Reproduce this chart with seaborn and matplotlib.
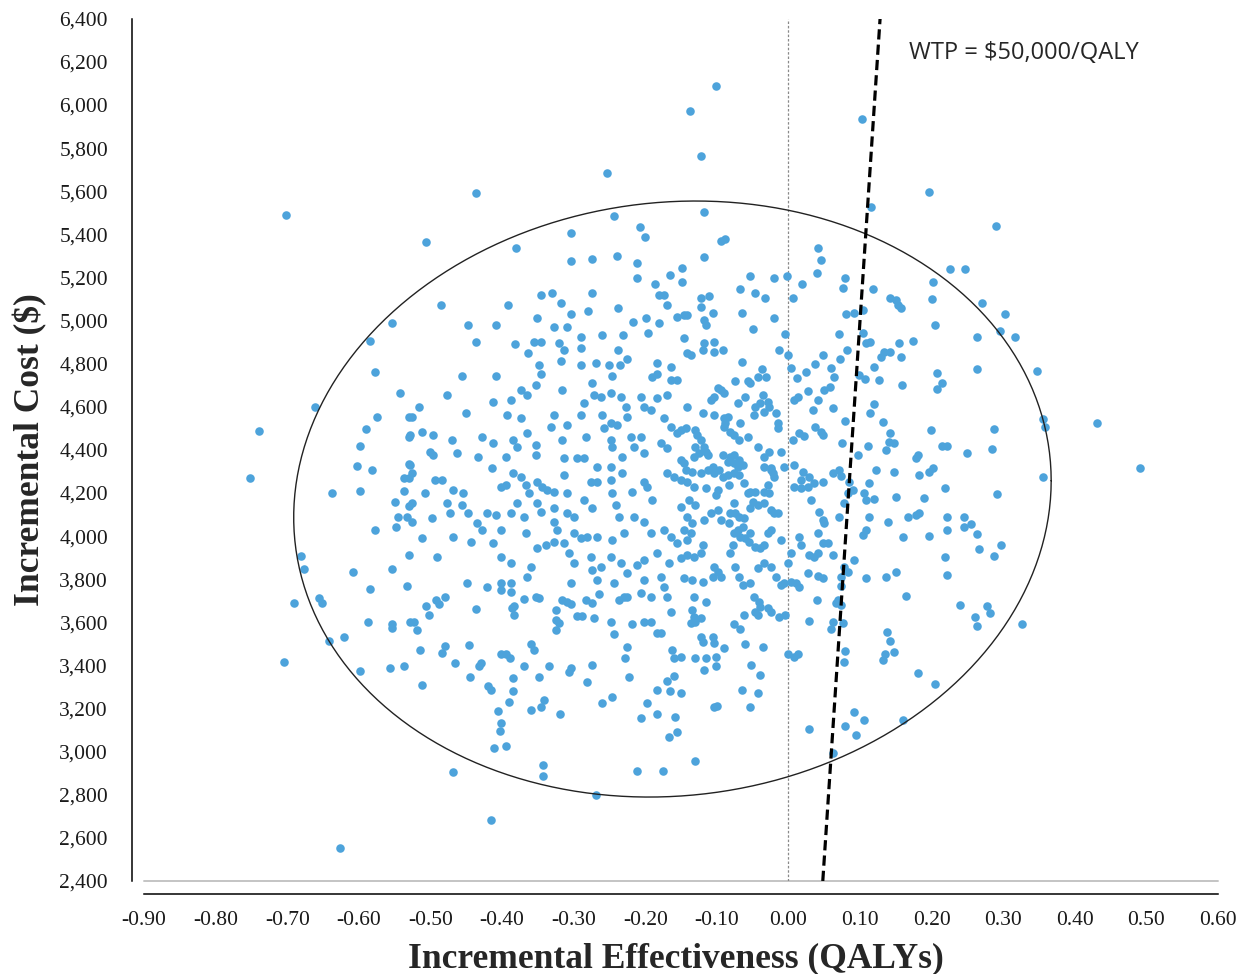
import numpy as np
import pandas as pd
import matplotlib
matplotlib.use("Agg")
import matplotlib.pyplot as plt
import seaborn as sns

# --- data: (incremental QALYs, incremental cost $) ---

pts_upper = [
    (-0.702, 5492), (-0.437, 5590), (-0.254, 5683), (-0.506, 5364), (-0.380, 5337),
    (-0.304, 5407), (-0.243, 5484), (-0.207, 5432), (-0.201, 5388), (-0.304, 5275),
    (-0.275, 5284), (-0.240, 5301), (-0.212, 5266), (-0.212, 5198), (-0.165, 5213),
    (-0.186, 5170), (-0.181, 5119), (-0.174, 5119), (-0.346, 5119), (-0.330, 5127),
    (-0.275, 5127), (-0.148, 5243), (-0.148, 5181),
    (-0.101, 6086), (-0.138, 5973), (-0.122, 5765), (0.103, 5937), (0.197, 5597),
    (0.116, 5527), (-0.118, 5503), (-0.094, 5371), (-0.088, 5379), (-0.118, 5293),
    (-0.054, 5207), (-0.020, 5196), (-0.002, 5207), (0.019, 5170), (-0.067, 5145),
    (-0.046, 5127), (-0.033, 5105), (-0.111, 5114), (-0.122, 5104), (0.006, 5105),
    (0.042, 5336), (0.045, 5283), (0.040, 5221), (0.079, 5198), (0.076, 5153),
    (0.118, 5145), (0.142, 5105), (0.150, 5096), (0.202, 5181), (0.225, 5238),
    (0.200, 5099), (0.290, 5439), (0.247, 5238),
]

pts_left = [
    (-0.553, 4988), (-0.585, 4907), (-0.577, 4762), (-0.542, 4664), (-0.661, 4601),
    (-0.739, 4489), (-0.574, 4552), (-0.590, 4499), (-0.530, 4552), (-0.530, 4461),
    (-0.598, 4420), (-0.752, 4271), (-0.603, 4325), (-0.582, 4306), (-0.530, 4333),
    (-0.537, 4271), (-0.530, 4271), (-0.637, 4202), (-0.598, 4210), (-0.537, 4210),
    (-0.550, 4159), (-0.530, 4141), (-0.545, 4089), (-0.533, 4089), (-0.548, 4044),
    (-0.577, 4029), (-0.681, 3907), (-0.677, 3846), (-0.608, 3835), (-0.553, 3846),
    (-0.530, 3914), (-0.584, 3756), (-0.533, 3769),
    (-0.690, 3689), (-0.655, 3715), (-0.652, 3689), (-0.587, 3600), (-0.553, 3591),
    (-0.553, 3575), (-0.528, 3602), (-0.642, 3514), (-0.621, 3531), (-0.705, 3418),
    (-0.598, 3374), (-0.556, 3390), (-0.537, 3398), (-0.626, 2555),
]

pts_mid_left = [
    (-0.485, 5073), (-0.391, 5073), (-0.317, 5081), (-0.280, 5046), (-0.238, 5057),
    (-0.170, 5073), (-0.303, 5031), (-0.351, 5014), (-0.217, 4995), (-0.199, 5011),
    (-0.181, 4988), (-0.155, 5018), (-0.328, 4969), (-0.309, 4972), (-0.448, 4978),
    (-0.408, 4978), (-0.437, 4900), (-0.382, 4892), (-0.356, 4900), (-0.345, 4900),
    (-0.364, 4849), (-0.321, 4895), (-0.314, 4864), (-0.290, 4926), (-0.290, 4872),
    (-0.261, 4935), (-0.231, 4935), (-0.196, 4944), (-0.238, 4864), (-0.225, 4822),
    (-0.269, 4802), (-0.251, 4794), (-0.235, 4794), (-0.317, 4813), (-0.290, 4794),
    (-0.349, 4794), (-0.345, 4752), (-0.183, 4805), (-0.164, 4786), (-0.155, 4725),
    (-0.456, 4743), (-0.408, 4743), (-0.275, 4709), (-0.246, 4743), (-0.190, 4737),
    (-0.183, 4752), (-0.164, 4725),
    (-0.477, 4655), (-0.450, 4570), (-0.516, 4601), (-0.526, 4554), (-0.412, 4624),
    (-0.388, 4632), (-0.393, 4562), (-0.374, 4678), (-0.365, 4655), (-0.353, 4701),
    (-0.316, 4678), (-0.328, 4562), (-0.309, 4516), (-0.286, 4616), (-0.290, 4562),
    (-0.272, 4655), (-0.262, 4647), (-0.248, 4663), (-0.234, 4647), (-0.227, 4601),
    (-0.260, 4562), (-0.248, 4524), (-0.239, 4516), (-0.225, 4554), (-0.206, 4647),
    (-0.202, 4601), (-0.192, 4585), (-0.183, 4640), (-0.169, 4655), (-0.174, 4547),
    (-0.164, 4508), (-0.374, 4547), (-0.332, 4508),
    (-0.512, 4485), (-0.496, 4469), (-0.470, 4446), (-0.500, 4392), (-0.496, 4377),
    (-0.463, 4385), (-0.433, 4369), (-0.428, 4458), (-0.412, 4431), (-0.395, 4369),
    (-0.384, 4446), (-0.379, 4415), (-0.365, 4477), (-0.353, 4423), (-0.353, 4377),
    (-0.316, 4446), (-0.314, 4361), (-0.295, 4361), (-0.286, 4361), (-0.283, 4462),
    (-0.258, 4500), (-0.248, 4446), (-0.246, 4415), (-0.232, 4369), (-0.220, 4462),
    (-0.206, 4462), (-0.216, 4415), (-0.202, 4384), (-0.178, 4431), (-0.169, 4407),
    (-0.155, 4477), (-0.528, 4469), (-0.528, 4330), (-0.526, 4292),
    (-0.493, 4261), (-0.484, 4261), (-0.414, 4315), (-0.402, 4230), (-0.395, 4237),
    (-0.384, 4292), (-0.374, 4276), (-0.367, 4237), (-0.363, 4199), (-0.351, 4253),
    (-0.344, 4230), (-0.337, 4214), (-0.328, 4206), (-0.314, 4284), (-0.309, 4199),
    (-0.276, 4253), (-0.267, 4253), (-0.267, 4322), (-0.248, 4322), (-0.248, 4261),
    (-0.246, 4199), (-0.241, 4145), (-0.232, 4292), (-0.218, 4206), (-0.202, 4253),
    (-0.197, 4230), (-0.190, 4168), (-0.169, 4292), (-0.160, 4276), (-0.507, 4199),
    (-0.468, 4214), (-0.454, 4199), (-0.472, 4106), (-0.456, 4145), (-0.477, 4153),
    (-0.526, 4153), (-0.526, 4067), (-0.498, 4083), (-0.512, 3990), (-0.491, 3905),
    (-0.468, 3998), (-0.447, 4106), (-0.435, 4060), (-0.428, 4029), (-0.421, 4106),
    (-0.409, 4098), (-0.402, 4029), (-0.388, 4106), (-0.379, 4153), (-0.370, 4090),
    (-0.351, 4153), (-0.346, 4114), (-0.328, 4129), (-0.328, 4067), (-0.323, 4029),
    (-0.309, 4106), (-0.300, 4090), (-0.286, 4168), (-0.274, 4129), (-0.300, 4013),
    (-0.290, 3990), (-0.281, 3998), (-0.267, 3998), (-0.246, 3982), (-0.237, 4090),
    (-0.230, 4013), (-0.216, 4090), (-0.202, 4067), (-0.192, 4013), (-0.174, 4029),
    (-0.164, 3998), (-0.155, 3967), (-0.444, 3974), (-0.412, 3967), (-0.402, 3905),
    (-0.388, 3874), (-0.367, 4013), (-0.351, 3943), (-0.339, 3959), (-0.328, 3974),
    (-0.314, 3967), (-0.307, 3920), (-0.300, 3874), (-0.276, 3905), (-0.262, 3858),
    (-0.248, 3905), (-0.234, 3874), (-0.225, 3827), (-0.211, 3866), (-0.202, 3889),
    (-0.183, 3920), (-0.167, 3874), (-0.449, 3781), (-0.421, 3766), (-0.402, 3781),
    (-0.388, 3781), (-0.365, 3812), (-0.360, 3858), (-0.304, 3781), (-0.274, 3843),
    (-0.267, 3797), (-0.244, 3781), (-0.202, 3797), (-0.178, 3812), (-0.174, 3766),
]

pts_mid_right = [
    (-0.122, 5065), (-0.106, 5034), (-0.118, 5003), (-0.115, 4980), (-0.146, 5026),
    (-0.141, 5026), (-0.065, 5037), (-0.020, 5014), (-0.049, 4960), (-0.005, 4937),
    (-0.013, 4864), (-0.001, 4841), (-0.065, 4807), (-0.146, 4918), (-0.141, 4849),
    (-0.136, 4841), (-0.118, 4895), (-0.120, 4864), (-0.104, 4902), (-0.104, 4856),
    (-0.092, 4864),
    (0.081, 5031), (0.092, 5037), (0.104, 5049), (0.071, 4937), (0.104, 4944),
    (0.108, 4895), (0.114, 4902), (0.082, 4864), (0.072, 4821), (0.048, 4841),
    (0.037, 4797), (0.024, 4763), (0.012, 4735), (0.003, 4779), (0.059, 4779),
    (0.064, 4740), (0.098, 4748), (0.107, 4729), (0.119, 4786), (0.127, 4725),
    (0.129, 4833), (0.134, 4856), (0.142, 4856), (0.155, 4895), (0.157, 4833),
    (0.174, 4907), (0.205, 4980), (0.153, 5073), (0.157, 5057), (0.159, 4703),
    (0.208, 4756), (0.215, 4709), (0.207, 4681),
    (-0.043, 4740), (-0.037, 4774), (-0.032, 4737), (-0.074, 4720), (-0.057, 4720),
    (-0.053, 4709), (-0.099, 4686), (-0.094, 4678), (-0.090, 4663), (-0.104, 4647),
    (-0.108, 4632), (-0.071, 4616), (-0.060, 4647), (-0.036, 4655), (-0.039, 4616),
    (-0.046, 4601), (-0.029, 4624), (-0.027, 4601), (-0.018, 4570), (-0.048, 4562),
    (-0.034, 4578), (-0.141, 4601), (-0.120, 4570), (-0.104, 4562), (-0.090, 4547),
    (-0.085, 4554), (-0.088, 4524), (-0.090, 4508), (-0.067, 4524), (-0.014, 4524),
    (-0.015, 4500), (-0.143, 4500), (-0.130, 4493), (-0.127, 4470), (-0.150, 4493),
    (-0.081, 4485), (-0.076, 4469), (-0.069, 4446), (-0.057, 4462),
    (0.008, 4632), (0.013, 4647), (0.027, 4675), (0.041, 4632), (0.034, 4585),
    (0.062, 4593), (0.050, 4678), (0.058, 4691), (0.079, 4534), (0.037, 4508),
    (0.045, 4485), (0.048, 4469), (0.015, 4477), (0.022, 4465), (0.006, 4446),
    (-0.043, 4415), (-0.027, 4392), (-0.011, 4392), (-0.034, 4369),
    (-0.122, 4446), (-0.118, 4415), (-0.130, 4415), (-0.125, 4384), (-0.132, 4369),
    (-0.115, 4392), (-0.113, 4377), (-0.092, 4377), (-0.081, 4369), (-0.076, 4377),
    (-0.069, 4353), (-0.064, 4330), (-0.071, 4322), (-0.076, 4338), (-0.085, 4346),
    (-0.150, 4353), (-0.146, 4338), (-0.143, 4307), (-0.134, 4299), (-0.122, 4292),
    (-0.113, 4307), (-0.106, 4322), (-0.104, 4292), (-0.097, 4307), (-0.092, 4276),
    (-0.085, 4284), (-0.076, 4292), (-0.069, 4284), (-0.025, 4315), (-0.022, 4292),
    (-0.006, 4322), (0.008, 4330), (0.020, 4299), (0.029, 4276), (0.036, 4245),
    (0.048, 4253), (0.062, 4292), (0.071, 4307), (0.073, 4279), (0.085, 4253),
    (0.090, 4214), (0.075, 4430), (0.111, 4420), (0.097, 4377), (0.136, 4400),
    (0.141, 4438), (0.148, 4431), (0.142, 4480), (0.132, 4531), (0.120, 4613),
    (0.114, 4570), (0.199, 4493), (0.215, 4420), (0.222, 4420),
    (0.181, 4377), (0.178, 4361), (0.148, 4299), (0.183, 4284), (0.197, 4299),
    (0.202, 4315), (0.122, 4307), (0.113, 4245), (0.106, 4199), (0.108, 4168),
    (0.119, 4171), (0.150, 4183), (0.190, 4176), (0.218, 4222), (0.078, 4153),
    (0.083, 4199), (0.071, 4090), (0.043, 4114), (0.048, 4075), (0.050, 4060),
    (0.113, 4090), (0.139, 4067), (0.167, 4090), (0.178, 4098), (0.183, 4106),
    (0.160, 3995), (0.197, 4002), (0.222, 4090), (0.222, 4029), (0.104, 4005),
    (0.108, 4029), (0.048, 3967), (0.055, 3967), (0.041, 4013), (0.062, 3913),
    (0.078, 3858), (0.083, 3835), (0.073, 3812), (0.092, 3889), (0.108, 3804),
    (0.136, 3812), (0.150, 3835), (0.218, 3905), (0.222, 3820), (0.073, 3769),
    (0.029, 3913), (0.036, 3905), (0.041, 3920), (0.027, 3827), (0.041, 3815),
    (0.048, 3804), (0.015, 3998), (0.017, 3959), (0.003, 3920), (-0.001, 3874),
    (-0.006, 3781), (0.003, 3789), (0.010, 3781), (0.015, 3766), (-0.011, 3982),
    (0.008, 4230), (0.017, 4261), (0.027, 4230), (0.031, 4168), (0.017, 4222),
    (-0.034, 4322), (-0.025, 4307), (-0.020, 4276), (-0.029, 4237), (-0.034, 4206),
    (-0.027, 4202), (-0.062, 4245), (-0.053, 4206), (-0.083, 4237), (-0.099, 4214),
    (-0.115, 4222), (-0.132, 4230), (-0.141, 4253), (-0.150, 4261), (-0.057, 4199),
    (-0.046, 4206), (-0.050, 4160), (-0.043, 4145), (-0.053, 4130),
    (-0.076, 4153), (-0.074, 4106), (-0.069, 4090), (-0.062, 4083), (-0.064, 4044),
    (-0.071, 4029), (-0.076, 4013), (-0.067, 3998), (-0.060, 3990), (-0.053, 4013),
    (-0.055, 3974), (-0.046, 3951), (-0.039, 3944), (-0.034, 3959), (-0.029, 4013),
    (-0.025, 4029), (-0.020, 4106), (-0.015, 4106), (-0.025, 4121), (-0.034, 4153),
    (-0.081, 4106), (-0.083, 4060), (-0.108, 4106), (-0.099, 4121), (-0.094, 4075),
    (-0.118, 4075), (-0.134, 4060), (-0.141, 4090), (-0.139, 4168), (-0.130, 4145),
    (-0.150, 4137), (-0.101, 4191), (-0.146, 4029), (-0.136, 4013), (-0.141, 3982),
    (-0.120, 3959), (-0.122, 3920), (-0.132, 3905), (-0.141, 3913), (-0.150, 3897),
    (-0.104, 3858), (-0.099, 3835), (-0.094, 3812), (-0.106, 3812), (-0.120, 3789),
    (-0.134, 3797), (-0.146, 3804), (-0.078, 3959), (-0.081, 3920), (-0.074, 3858),
    (-0.069, 3812), (-0.064, 3773), (-0.053, 3781), (-0.043, 3851), (-0.034, 3874),
    (-0.025, 3858), (-0.018, 3812), (-0.011, 3773),
]

pts_right = [
    (0.271, 5080), (0.303, 5031), (0.263, 4925), (0.295, 4952), (0.316, 4925),
    (0.263, 4777), (0.347, 4768), (0.355, 4544), (0.358, 4507), (0.431, 4524),
    (0.287, 4499), (0.250, 4385), (0.284, 4403), (0.491, 4315), (0.355, 4273),
    (0.292, 4194), (0.245, 4088), (0.245, 4044), (0.255, 4055), (0.263, 4010),
    (0.266, 3942), (0.297, 3957), (0.287, 3907),
    (0.240, 3679), (0.278, 3676), (0.282, 3645), (0.260, 3623), (0.263, 3585),
    (0.326, 3592),
]

pts_lower = [
    (-0.523, 3603), (-0.519, 3565), (-0.506, 3676), (-0.502, 3634), (-0.492, 3704),
    (-0.488, 3685), (-0.480, 3716), (-0.515, 3470), (-0.512, 3309), (-0.484, 3459),
    (-0.479, 3490), (-0.466, 3410), (-0.446, 3495), (-0.445, 3347), (-0.437, 3662),
    (-0.432, 3398), (-0.429, 3410), (-0.420, 3306), (-0.416, 3286), (-0.406, 3190),
    (-0.401, 3132), (-0.403, 3095), (-0.411, 3016), (-0.395, 3026), (-0.469, 2904),
    (-0.416, 2684), (-0.402, 3453), (-0.394, 3453), (-0.389, 3433), (-0.384, 3341),
    (-0.384, 3282), (-0.390, 3232), (-0.386, 3665), (-0.383, 3634), (-0.383, 3676),
    (-0.401, 3750), (-0.388, 3742), (-0.370, 3707), (-0.370, 3398), (-0.359, 3500),
    (-0.356, 3472), (-0.359, 3193), (-0.349, 3348), (-0.345, 3209), (-0.341, 3240),
    (-0.343, 2938), (-0.343, 2887), (-0.353, 3719), (-0.349, 3712), (-0.334, 3399),
    (-0.324, 3657), (-0.324, 3611), (-0.324, 3564), (-0.321, 3596), (-0.319, 3173),
    (-0.316, 3704), (-0.309, 3696), (-0.304, 3685), (-0.307, 3371), (-0.303, 3387),
    (-0.295, 3630), (-0.289, 3630), (-0.282, 3322), (-0.274, 3402), (-0.272, 3619),
    (-0.283, 3704), (-0.275, 3691), (-0.269, 2799), (-0.264, 3732), (-0.261, 3225),
    (-0.248, 3600), (-0.246, 3252), (-0.243, 3545), (-0.237, 3704), (-0.230, 3719),
    (-0.225, 3719), (-0.228, 3433), (-0.225, 3487), (-0.223, 3348), (-0.219, 3591),
    (-0.212, 2912), (-0.206, 3155), (-0.198, 3225), (-0.202, 3600), (-0.192, 3600),
    (-0.183, 3549), (-0.178, 3549), (-0.183, 3286), (-0.183, 3173), (-0.175, 2912),
    (-0.169, 3329), (-0.167, 3070), (-0.165, 3281), (-0.162, 3472), (-0.160, 3433),
    (-0.159, 3162), (-0.155, 3093), (-0.160, 3351), (-0.164, 3649), (-0.169, 3719),
    (-0.192, 3719), (-0.206, 3735),
    (-0.132, 3719), (-0.134, 3657), (-0.132, 3626), (-0.136, 3596), (-0.130, 3603),
    (-0.122, 3619), (-0.115, 3696), (-0.150, 3441), (-0.130, 3433), (-0.118, 3379),
    (-0.122, 3533), (-0.120, 3510), (-0.115, 3433), (-0.106, 3533), (-0.104, 3503),
    (-0.101, 3441), (-0.101, 3398), (-0.090, 3480), (-0.104, 3209), (-0.100, 3212),
    (-0.130, 2957), (-0.150, 3270), (-0.076, 3591), (-0.067, 3568), (-0.062, 3634),
    (-0.060, 3498), (-0.052, 3402), (-0.065, 3286), (-0.053, 3209), (-0.043, 3270),
    (-0.039, 3356), (-0.036, 3487), (-0.046, 3649), (-0.042, 3634), (-0.039, 3673),
    (-0.041, 3696), (-0.048, 3719), (-0.028, 3665), (-0.025, 3649), (-0.013, 3626),
    (-0.005, 3634), (0.000, 3452), (0.008, 3441), (0.013, 3452), (0.029, 3608),
    (0.040, 3704), (0.029, 3104), (0.062, 3603), (0.059, 3568), (0.066, 3689),
    (0.073, 3681), (0.069, 3704), (0.076, 3598), (0.079, 3467), (0.077, 3418),
    (0.062, 2993), (0.079, 3119), (0.092, 3183), (0.105, 3147), (0.095, 3077),
    (0.164, 3722), (0.137, 3557), (0.142, 3515), (0.132, 3425), (0.135, 3453),
    (0.148, 3461), (0.181, 3366), (0.205, 3313), (0.160, 3147),
]

x_ticks = [-0.90, -0.80, -0.70, -0.60, -0.50, -0.40, -0.30, -0.20, -0.10,
           0.00, 0.10, 0.20, 0.30, 0.40, 0.50, 0.60]
x_tick_labels = ["-0.90", "-0.80", "-0.70", "-0.60", "-0.50", "-0.40", "-0.30", "-0.20",
                 "-0.10", "0.00", "0.10", "0.20", "0.30", "0.40", "0.50", "0.60"]
y_ticks = list(range(2400, 6401, 200))

wtp = 50000  # $/QALY threshold

# confidence ellipse (centre, x half-width, y tilt term, y half-height)
ell_center = (-0.162, 4172)
ell_x_half = 0.529
ell_y_tilt = 85
ell_y_half = 1380

dot_color = "#4DA3DB"

# --- build frame ---
all_pts = pts_upper + pts_left + pts_mid_left + pts_mid_right + pts_right + pts_lower
df = pd.DataFrame(all_pts, columns=["effect", "cost"])

sns.set_style("white")
serif = "Liberation Serif"
plt.rcParams["font.family"] = [serif, "DejaVu Serif"]

fig = plt.figure(figsize=(12.44, 9.74), dpi=100)
ax = fig.add_axes([0.1158, 0.0955, 0.8633, 0.8852])

sns.scatterplot(data=df, x="effect", y="cost", color=dot_color, s=38,
                linewidth=0, legend=False, ax=ax, zorder=3)

# ellipse
t = np.linspace(0, 2 * np.pi, 200)
ex = ell_center[0] + ell_x_half * np.cos(t)
ey = ell_center[1] + ell_y_tilt * np.cos(t) + ell_y_half * np.sin(t)
ax.plot(ex, ey, color="#222222", lw=1.0, zorder=4)

# WTP threshold line
wy = np.array([2400, 6400])
ax.plot(wy / wtp, wy, color="black", lw=2.3, ls=(0, (3.2, 1.6)), zorder=5)
ax.text(0.168, 6242, "WTP = $50,000/QALY", fontsize=17, family="Open Sans",
        ha="left", va="center")

# origin line
ax.axvline(0, color="#8a8a8a", lw=0.9, ls=(0, (2, 1.5)), zorder=2)
ax.axhline(2400, color="#c4c4c4", lw=1.4, clip_on=False, zorder=1)

ax.set_xlim(-0.9, 0.6)
ax.set_ylim(2400, 6400)
ax.set_xticks(x_ticks)
ax.set_xticklabels(x_tick_labels)
ax.set_yticks(y_ticks)
ax.set_yticklabels([f"{v:,}" for v in y_ticks])

ax.spines["top"].set_visible(False)
ax.spines["right"].set_visible(False)
ax.spines["left"].set_position(("outward", 9))
ax.spines["bottom"].set_position(("outward", 9.6))
for s in ["left", "bottom"]:
    ax.spines[s].set_color("black")
    ax.spines[s].set_linewidth(1.1)

ax.tick_params(axis="y", direction="inout", length=14, width=0.9, color="#b0b0b0",
               pad=10, labelsize=15.5, labelcolor="#1a1a1a")
ax.tick_params(axis="x", direction="in", length=8, width=0.9, color="#b0b0b0",
               pad=12, labelsize=15.5, labelcolor="#1a1a1a")

ax.set_xlabel("Incremental Effectiveness (QALYs)", fontsize=25.5, fontweight="bold")
ax.set_ylabel("Incremental Cost ($)", fontsize=25.5, fontweight="bold")
ax.xaxis.set_label_coords(0.495, -0.071)
ax.yaxis.set_label_coords(-0.090, 0.5)

fig.savefig("out.png", dpi=100)
